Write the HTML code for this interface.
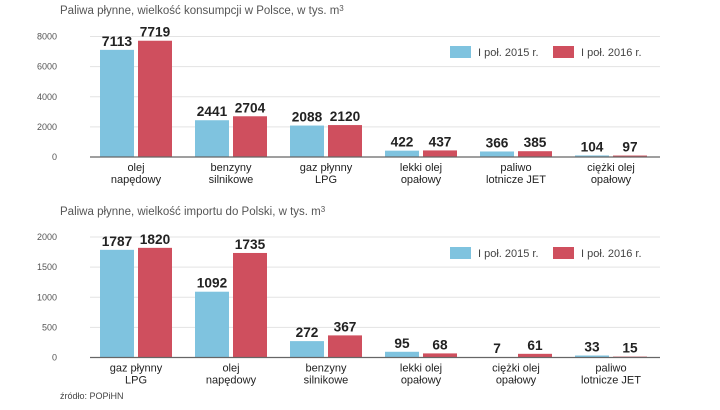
<!DOCTYPE html>
<html><head><meta charset="utf-8">
<style>
body{margin:0;background:#fff;width:720px;height:405px;overflow:hidden;font-family:"Liberation Sans",sans-serif}
svg text{font-family:"Liberation Sans",sans-serif}
</style></head><body>
<svg id="c" width="720" height="405"></svg>
<script>
const cats1=["olej\nnapędowy","benzyny\nsilnikowe","gaz płynny\nLPG","lekki olej\nopałowy","paliwo\nlotnicze JET","ciężki olej\nopałowy"];
const s2015a=[7113,2441,2088,422,366,104];
const s2016a=[7719,2704,2120,437,385,97];
const ticks1=[0,2000,4000,6000,8000];
const cats2=["gaz płynny\nLPG","olej\nnapędowy","benzyny\nsilnikowe","lekki olej\nopałowy","ciężki olej\nopałowy","paliwo\nlotnicze JET"];
const s2015b=[1787,1092,272,95,7,33];
const s2016b=[1820,1735,367,68,61,15];
const ticks2=[0,500,1000,1500,2000];
const seriesNames=["I poł. 2015 r.","I poł. 2016 r."];
const NS="http://www.w3.org/2000/svg";
const svg=document.getElementById('c');
function el(t,a,txt){const e=document.createElementNS(NS,t);for(const k in a)e.setAttribute(k,a[k]);if(txt!=null)e.textContent=txt;svg.appendChild(e);return e;}
function chart(opt){
  const {title,titleY,y0,max,pxH,cats,a,b,ticks,legY,key}=opt;
  const y=v=>y0-v/max*pxH;
  const x=i=>136+i*95;
  let t=el('text',{x:60,y:titleY,'font-size':11.5,fill:'#555'},title);
  
  const sup=el('tspan',{'font-size':8,dy:-3});sup.textContent='3';t.appendChild(sup);
  ticks.forEach(v=>{
    const g=el('line',{x1:90,x2:660,y1:y(v),y2:y(v),stroke:'#e3e3e3','stroke-width':1});
    
    const l=el('text',{x:57,y:y(v)+3,'font-size':9,fill:'#555','text-anchor':'end'},String(v));
    
  });
  cats.forEach((c,i)=>{
    [[a[i],'#7fc3df',-36],[b[i],'#cf4f5e',2]].forEach(([v,col,dx],j)=>{
      const r=el('rect',{x:x(i)+dx,y:y(v),width:34,height:y0-y(v),fill:col});
      
      const vl=el('text',{x:x(i)+dx+17,y:y(v)-4,'font-size':14,'font-weight':'bold',fill:'#222','text-anchor':'middle','textLength':String(v).length*7.6,'lengthAdjust':'spacingAndGlyphs'},String(v));
      
    });
    c.split('\n').forEach((ln,k)=>{
      const cl=el('text',{x:x(i),y:y0+14+k*12,'font-size':11,fill:'#222','text-anchor':'middle'},ln);
      
    });
  });
  const ax=el('line',{x1:90,x2:660,y1:y0,y2:y0,stroke:'#666','stroke-width':1.2});
  
  [[450,'#7fc3df',seriesNames[0]],[553,'#cf4f5e',seriesNames[1]]].forEach(([lx,col,nm])=>{
    const s=el('rect',{x:lx,y:legY,width:21,height:12,fill:col});
    
    const lt=el('text',{x:lx+28,y:legY+10,'font-size':11,fill:'#444'},nm);
    
  });
}
chart({title:'Paliwa płynne, wielkość konsumpcji w Polsce, w tys. m',titleY:14,y0:157,max:8000,pxH:120.5,cats:cats1,a:s2015a,b:s2016a,ticks:ticks1,legY:46,key:'consumption'});
chart({title:'Paliwa płynne, wielkość importu do Polski, w tys. m',titleY:215,y0:357.5,max:2000,pxH:120.5,cats:cats2,a:s2015b,b:s2016b,ticks:ticks2,legY:247,key:'import'});
const src=el('text',{x:60,y:399,'font-size':9,fill:'#444'},'źródło: POPiHN');

</script>
</body></html>
